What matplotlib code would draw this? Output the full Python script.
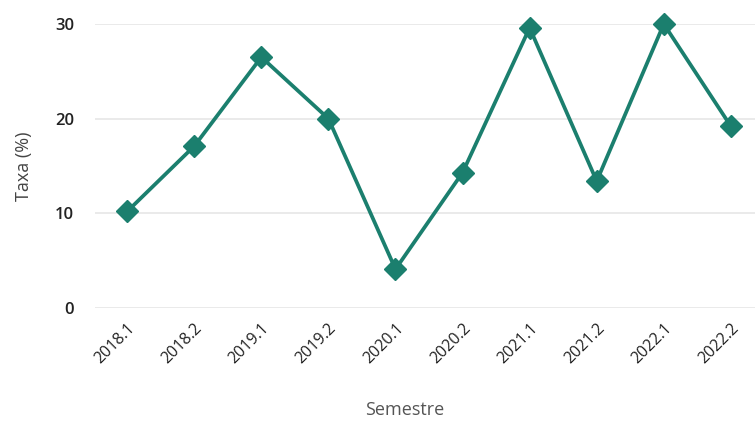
import matplotlib
matplotlib.use("Agg")
from matplotlib import pyplot as plt

semestres = ["2018.1", "2018.2", "2019.1", "2019.2", "2020.1",
             "2020.2", "2021.1", "2021.2", "2022.1", "2022.2"]
taxa = [10.2, 17.1, 26.5, 20.0, 4.1, 14.3, 29.6, 13.4, 30.0, 19.2]

plt.rcParams['font.family'] = ['Open Sans', 'DejaVu Sans']
cor = "#1b7f6e"

fig = plt.figure(figsize=(7.55, 4.24), dpi=100)
ax = fig.add_axes([95 / 755, 116 / 424, 660 / 755, 284 / 424])

x = list(range(len(semestres)))
ax.plot(x, taxa, color=cor, linewidth=2.7, marker="D", markersize=11,
        clip_on=False, zorder=3)

ax.set_xlim(-0.48, 9.36)
ax.set_ylim(0, 30)
ax.set_yticks([0, 10, 20, 30])
ax.grid(axis="y", color="#e6e6e6", linewidth=1.2)
ax.set_axisbelow(True)
for s in ax.spines.values():
    s.set_visible(False)

ax.set_xticks(x)
ax.set_xticklabels(semestres, rotation=45, ha="right", rotation_mode="anchor",
                   fontsize=11.5, color="#222222")
ax.tick_params(axis="x", length=0, pad=9)
ax.tick_params(axis="y", length=0, pad=15, labelsize=12, labelcolor="#222222")
for lbl in ax.get_yticklabels():
    lbl.set_fontweight("semibold")

ax.set_ylabel("Taxa (%)", fontsize=13, color="#444444", labelpad=16)
fig.text(405 / 755, 1 - 410 / 424, "Semestre", fontsize=13, color="#555555",
         ha="center", va="center")

plt.savefig("out.png", dpi=100)
